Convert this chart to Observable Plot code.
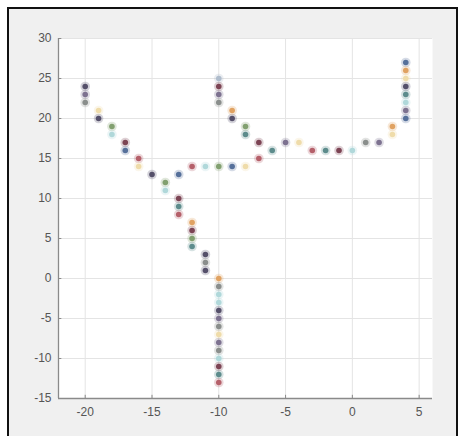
<!DOCTYPE html>
<html>
<head>
<meta charset="utf-8">
<script src="https://cdn.jsdelivr.net/npm/d3@7"></script>
<script src="https://cdn.jsdelivr.net/npm/@observablehq/plot@0.6"></script>
<style>
  html, body { margin: 0; padding: 0; background: #ffffff; width: 460px; height: 436px; overflow: hidden; }
  #frame { position: absolute; left: 7px; top: 7px; width: 447px; height: 440px; border: 2px solid #111; background: #f0f0f0; }
  #chart { position: absolute; left: 0; top: 0; }
</style>
</head>
<body>
<div id="frame"></div>
<div id="chart"></div>
<script>
// Data
const xValues = [-20,-20,-20,-19,-19,-18,-18,-17,-17,-16,-16,-15,-14,-14,-13,-13,-13,-13,
  -12,-12,-12,-12,-12,-11,-11,-11,-11,-10,-10,-10,-10,-10,-9,-9,-9,-8,-8,-8,-7,-7,-6,-5,-4,-3,-2,-1,0,1,2,3,3,
  4,4,4,4,4,4,4,4,
  -10,-10,-10,-10,-10,-10,-10,-10,-10,-10,-10,-10,-10,-10];
const yValues = [24,23,22,21,20,19,18,17,16,15,14,13,12,11,13,10,9,8,
  14,7,6,5,4,14,3,2,1,25,24,23,22,14,21,20,14,19,18,14,17,15,16,17,17,16,16,16,16,17,17,19,18,
  27,26,25,24,23,22,21,20,
  0,-1,-2,-3,-4,-5,-6,-7,-8,-9,-10,-11,-12,-13];
const colorGroup = ["A","K","I","E","A","F","H","J","B","C","E","A","F","H","B","J","G","C",
  "C","D","J","F","G","H","A","I","A","L","J","K","I","F","D","A","B","F","G","E","J","C","G","K","E","C","G","J","H","I","K","D","E",
  "B","D","E","A","G","H","K","B",
  "D","I","H","H","A","K","I","E","K","I","H","J","G","C"];
const xTicks = [-20,-15,-10,-5,0,5];
const yTicks = [-15,-10,-5,0,5,10,15,20,25,30];

const points = xValues.map((x, i) => ({x, y: yValues[i], g: colorGroup[i]}));

const groupDomain = ["A","B","C","D","E","F","G","H","I","J","K","L"];
const groupRange = ["#55506a","#56709a","#b5606a","#e0a262","#efdcaa","#82a070","#5d8c8c","#b0d8da","#8a8e8c","#7c4454","#7d7290","#afbccc"];

const plot = Plot.plot({
  width: 460,
  height: 436,
  marginLeft: 58,
  marginRight: 28,
  marginTop: 38,
  marginBottom: 38,
  style: {background: "transparent", fontFamily: "'Liberation Sans', Arial, sans-serif", fontSize: "12px", color: "#555"},
  x: {domain: [-22, 6], ticks: xTicks, label: null},
  y: {domain: [-15, 30], ticks: yTicks, label: null},
  color: {type: "ordinal", domain: groupDomain, range: groupRange},
  marks: [
    Plot.frame({fill: "white", stroke: null}),
    Plot.gridX(xTicks, {stroke: "#e4e4e4", strokeOpacity: 1}),
    Plot.gridY(yTicks, {stroke: "#e4e4e4", strokeOpacity: 1}),
    Plot.ruleX([-22], {stroke: "#8a8a8a", strokeWidth: 1.3}),
    Plot.ruleY([-15], {stroke: "#8a8a8a", strokeWidth: 1.3}),
    Plot.ruleX(xTicks, {y1: -15, y2: -14.6, stroke: "#8a8a8a"}),
    Plot.ruleY(yTicks, {x1: -22, x2: -21.75, stroke: "#8a8a8a"}),
    Plot.axisX(xTicks, {tickSize: 0, tickPadding: 9, fill: "#555", tickFormat: d => String(d)}),
    Plot.axisY(yTicks, {tickSize: 0, tickPadding: 7, fill: "#555", tickFormat: d => String(d)}),
    Plot.dot(points, {x: "x", y: "y", fill: "g", r: 4.8, fillOpacity: 0.25, stroke: null}),
    Plot.dot(points, {x: "x", y: "y", fill: "g", r: 2.8, stroke: null})
  ]
});
document.getElementById("chart").appendChild(plot);
</script>
</body>
</html>
